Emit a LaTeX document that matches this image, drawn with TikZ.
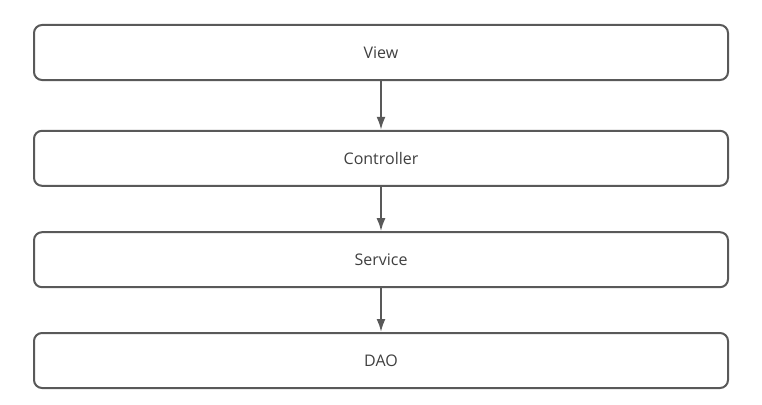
\documentclass[tikz,border=0pt]{standalone}
\usepackage{fontspec}
\setmainfont{Open Sans}
\usepackage[dvipsnames]{xcolor}
\usepackage{tikz}
\usetikzlibrary{arrows.meta}
\usetikzlibrary{positioning}
\definecolor{boxgray}{rgb}{0.35, 0.35, 0.35}
\definecolor{textgray}{rgb}{0.25, 0.25, 0.25}
\tikzset{
  layer/.style={draw=boxgray, line width=2pt, rounded corners=8pt, minimum width=694pt, minimum height=55pt, inner sep=0pt, text=textgray, font=\fontsize{16}{19}\selectfont},
  callarrow/.style={draw=boxgray, line width=2pt, -{Latex[length=13pt, width=9pt]}}
}

\begin{document}
\begin{tikzpicture}[line cap=round,line join=round, x=1pt,y=-1pt]
\fill[white] (0,0) rectangle (762,404);
\useasboundingbox (0,0) rectangle (762,404);
\node [layer] (view) at (381,52.5) {View};
\node [layer] (controller) at (381,158.3) {Controller};
\node [layer] (service) at (381,259.7) {Service};
\node [layer] (dao) at (381,360.5) {DAO};
\draw [callarrow] (view) -- (controller);
\draw [callarrow] (controller) -- (service);
\draw [callarrow] (service) -- (dao);
\end{tikzpicture}
\end{document}
